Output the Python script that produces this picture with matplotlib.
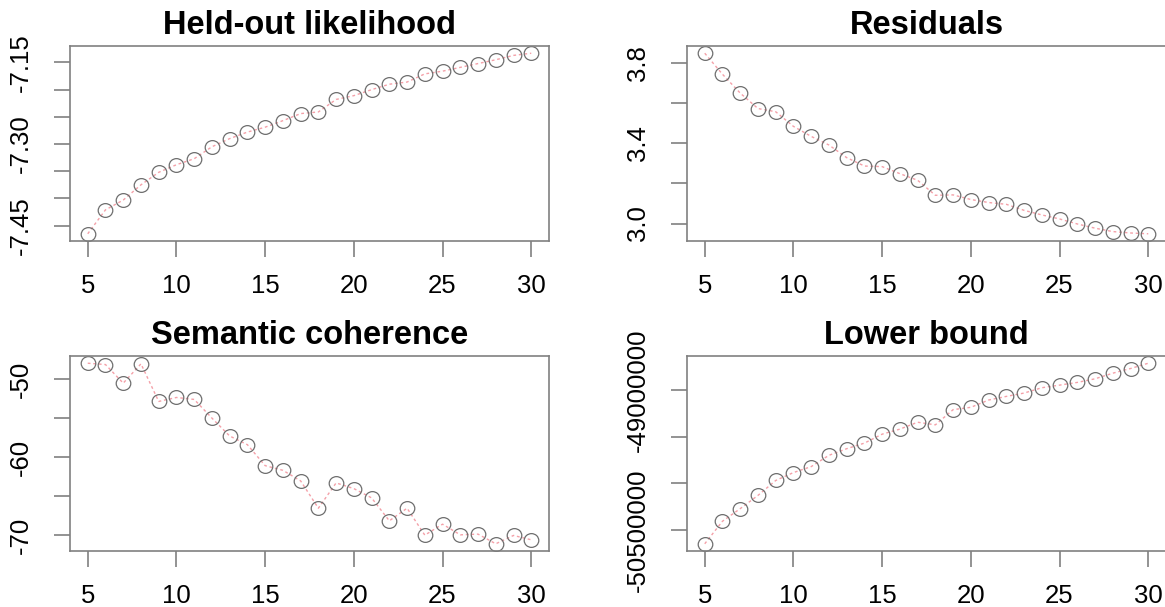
import numpy as np
import matplotlib.pyplot as plt
from matplotlib.path import Path
from matplotlib.transforms import Affine2D

plt.rcParams['font.family'] = ['Liberation Sans', 'DejaVu Sans']

K = list(range(5, 31))

heldout = [-7.465, -7.421, -7.403, -7.375, -7.352, -7.338, -7.327, -7.305, -7.290,
           -7.278, -7.269, -7.257, -7.244, -7.241, -7.218, -7.211, -7.200, -7.190,
           -7.186, -7.171, -7.166, -7.159, -7.152, -7.145, -7.137, -7.133]

residuals = [3.850, 3.745, 3.651, 3.574, 3.558, 3.485, 3.435, 3.392, 3.329, 3.287,
             3.284, 3.249, 3.216, 3.141, 3.143, 3.120, 3.105, 3.096, 3.066, 3.043,
             3.023, 2.998, 2.977, 2.960, 2.953, 2.949]

semcoh = [-47.91, -48.08, -50.47, -47.99, -52.82, -52.31, -52.56, -54.96, -57.26,
          -58.38, -61.07, -61.67, -63.03, -66.54, -63.29, -64.02, -65.21, -68.16,
          -66.54, -70.00, -68.59, -69.96, -69.87, -71.11, -70.04, -70.60]

bound = [-50648900, -50407000, -50272000, -50130000, -49970000, -49885000, -49821000,
         -49700000, -49629000, -49569000, -49473000, -49419000, -49345000, -49373000,
         -49210000, -49185000, -49107000, -49068000, -49032000, -48975000, -48947000,
         -48918000, -48879000, -48819000, -48769000, -48712000]

x_ticks = [5, 10, 15, 20, 25, 30]

panels = [
    ('Held-out likelihood', heldout,
     [-7.15, -7.20, -7.25, -7.30, -7.35, -7.40, -7.45],
     ['-7.15', '', '', '-7.30', '', '', '-7.45']),
    ('Residuals', residuals,
     [3.8, 3.6, 3.4, 3.2, 3.0],
     ['3.8', '', '3.4', '', '3.0']),
    ('Semantic coherence', semcoh,
     [-50, -55, -60, -65, -70],
     ['-50', '', '-60', '', '-70']),
    ('Lower bound', bound,
     [-49000000, -49500000, -50000000, -50500000],
     ['-49000000', '', '', '-50500000']),
]

W, H = 1165, 607
fig = plt.figure(figsize=(W / 100, H / 100), dpi=100)

# source picture is slightly stretched sideways, circles a touch wide
ellipse = Path.unit_circle().transformed(Affine2D().scale(1.06, 1.0))

# box positions in pixels: left, top, right, bottom
boxes = [(70, 46, 549, 241), (687, 46, 1166, 241),
         (70, 356, 549, 551), (687, 356, 1166, 551)]

grey = '#808080'
for (title, vals, yt, ylab), (l, t, r, b) in zip(panels, boxes):
    ax = fig.add_axes([l / W, 1 - b / H, (r - l) / W, (b - t) / H])
    ax.plot(K, vals, color='#f4a0a8', lw=1, linestyle=(0, (2, 2)))
    ax.plot(K, vals, linestyle='none', marker=ellipse, mfc='none', mec='#6e6e6e', mew=0.9, ms=10.5)
    lo, hi = min(vals), max(vals)
    rng = hi - lo
    ax.set_ylim(lo - 0.04 * rng, hi + 0.04 * rng)
    ax.set_xlim(4, 31)
    ax.set_xticks(x_ticks)
    ax.set_xticklabels([str(v) for v in x_ticks])
    ax.set_yticks(yt)
    ax.set_yticklabels(ylab)
    for s in ax.spines.values():
        s.set_color(grey)
        s.set_linewidth(1.2)
    ax.tick_params(colors=grey, labelcolor='black', labelsize=18.5, length=11.5, width=1.2)
    ax.tick_params(axis='x', pad=12)
    ax.tick_params(axis='y', pad=15, labelrotation=90)
    for lab in ax.get_yticklabels():
        lab.set_va('center')
    ax.set_title(title, fontsize=23.5, fontweight='bold', pad=9)

fig.savefig('out.png', dpi=100)
